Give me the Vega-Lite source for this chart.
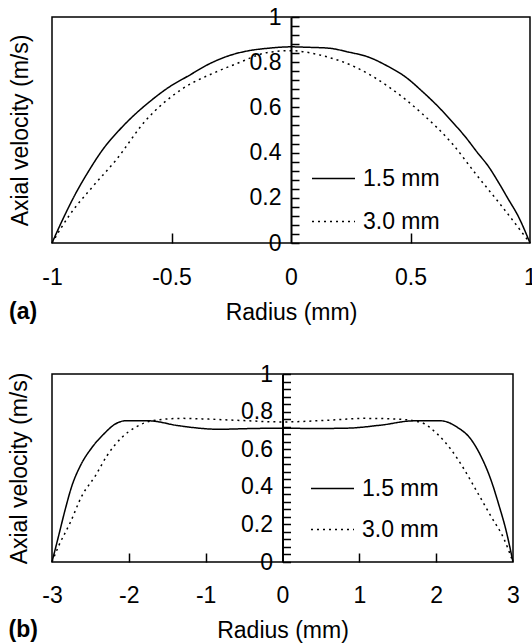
{
  "$schema": "https://vega.github.io/schema/vega-lite/v6.json",
  "padding": {"left": 7, "top": 5, "right": 0, "bottom": 0},
  "spacing": 37,
  "resolve": {"scale": {"strokeDash": "independent"}, "legend": {"strokeDash": "independent"}},
  "config": {
    "view": {"stroke": "black", "strokeWidth": 1.5},
    "font": "Liberation Sans",
    "axis": {
      "labelFont": "Liberation Sans", "labelFontSize": 23, "labelColor": "black",
      "titleFont": "Liberation Sans", "titleFontSize": 23, "titleFontWeight": "normal", "titleColor": "black",
      "grid": false, "labelFlush": false, "labelOverlap": false, "labelBound": false,
      "tickColor": "black", "domainColor": "black", "tickWidth": 1.5
    },
    "legend": {
      "labelFont": "Liberation Sans", "labelFontSize": 23, "labelColor": "black",
      "symbolType": "stroke", "symbolSize": 1849, "symbolStrokeWidth": 1.5, "symbolStrokeColor": "black",
      "labelOffset": 7, "padding": 0
    },
    "title": {"font": "Liberation Sans", "fontSize": 23, "fontWeight": "bold", "color": "black"}
  },
  "datasets": {
    "a": [
      {"r": -1, "v": 0, "series": "1.5 mm"},
      {"r": -0.957, "v": 0.1, "series": "1.5 mm"},
      {"r": -0.901, "v": 0.219, "series": "1.5 mm"},
      {"r": -0.845, "v": 0.321, "series": "1.5 mm"},
      {"r": -0.79, "v": 0.41, "series": "1.5 mm"},
      {"r": -0.72, "v": 0.498, "series": "1.5 mm"},
      {"r": -0.65, "v": 0.572, "series": "1.5 mm"},
      {"r": -0.594, "v": 0.623, "series": "1.5 mm"},
      {"r": -0.51, "v": 0.69, "series": "1.5 mm"},
      {"r": -0.427, "v": 0.741, "series": "1.5 mm"},
      {"r": -0.343, "v": 0.792, "series": "1.5 mm"},
      {"r": -0.259, "v": 0.829, "series": "1.5 mm"},
      {"r": -0.176, "v": 0.851, "series": "1.5 mm"},
      {"r": -0.092, "v": 0.862, "series": "1.5 mm"},
      {"r": 0, "v": 0.868, "series": "1.5 mm"},
      {"r": 0.07, "v": 0.866, "series": "1.5 mm"},
      {"r": 0.159, "v": 0.862, "series": "1.5 mm"},
      {"r": 0.24, "v": 0.845, "series": "1.5 mm"},
      {"r": 0.326, "v": 0.822, "series": "1.5 mm"},
      {"r": 0.4, "v": 0.785, "series": "1.5 mm"},
      {"r": 0.48, "v": 0.734, "series": "1.5 mm"},
      {"r": 0.55, "v": 0.67, "series": "1.5 mm"},
      {"r": 0.619, "v": 0.6, "series": "1.5 mm"},
      {"r": 0.68, "v": 0.53, "series": "1.5 mm"},
      {"r": 0.73, "v": 0.469, "series": "1.5 mm"},
      {"r": 0.78, "v": 0.4, "series": "1.5 mm"},
      {"r": 0.828, "v": 0.336, "series": "1.5 mm"},
      {"r": 0.87, "v": 0.265, "series": "1.5 mm"},
      {"r": 0.912, "v": 0.189, "series": "1.5 mm"},
      {"r": 0.95, "v": 0.12, "series": "1.5 mm"},
      {"r": 1, "v": 0, "series": "1.5 mm"},
      {"r": -1, "v": 0, "series": "3.0 mm"},
      {"r": -0.929, "v": 0.12, "series": "3.0 mm"},
      {"r": -0.831, "v": 0.248, "series": "3.0 mm"},
      {"r": -0.733, "v": 0.366, "series": "3.0 mm"},
      {"r": -0.608, "v": 0.542, "series": "3.0 mm"},
      {"r": -0.455, "v": 0.682, "series": "3.0 mm"},
      {"r": -0.315, "v": 0.756, "series": "3.0 mm"},
      {"r": -0.231, "v": 0.792, "series": "3.0 mm"},
      {"r": -0.092, "v": 0.844, "series": "3.0 mm"},
      {"r": 0, "v": 0.851, "series": "3.0 mm"},
      {"r": 0.131, "v": 0.829, "series": "3.0 mm"},
      {"r": 0.27, "v": 0.778, "series": "3.0 mm"},
      {"r": 0.41, "v": 0.69, "series": "3.0 mm"},
      {"r": 0.549, "v": 0.572, "series": "3.0 mm"},
      {"r": 0.675, "v": 0.439, "series": "3.0 mm"},
      {"r": 0.772, "v": 0.307, "series": "3.0 mm"},
      {"r": 0.884, "v": 0.16, "series": "3.0 mm"},
      {"r": 1, "v": 0, "series": "3.0 mm"}
    ],
    "b": [
      {"r": -3, "v": 0, "series": "1.5 mm"},
      {"r": -2.914, "v": 0.139, "series": "1.5 mm"},
      {"r": -2.827, "v": 0.281, "series": "1.5 mm"},
      {"r": -2.741, "v": 0.405, "series": "1.5 mm"},
      {"r": -2.632, "v": 0.511, "series": "1.5 mm"},
      {"r": -2.48, "v": 0.609, "series": "1.5 mm"},
      {"r": -2.328, "v": 0.68, "series": "1.5 mm"},
      {"r": -2.176, "v": 0.734, "series": "1.5 mm"},
      {"r": -2.046, "v": 0.751, "series": "1.5 mm"},
      {"r": -1.742, "v": 0.751, "series": "1.5 mm"},
      {"r": -1.352, "v": 0.725, "series": "1.5 mm"},
      {"r": -0.831, "v": 0.706, "series": "1.5 mm"},
      {"r": -0.4, "v": 0.71, "series": "1.5 mm"},
      {"r": 0, "v": 0.712, "series": "1.5 mm"},
      {"r": 0.4, "v": 0.71, "series": "1.5 mm"},
      {"r": 0.845, "v": 0.712, "series": "1.5 mm"},
      {"r": 1.279, "v": 0.728, "series": "1.5 mm"},
      {"r": 1.713, "v": 0.751, "series": "1.5 mm"},
      {"r": 2.06, "v": 0.751, "series": "1.5 mm"},
      {"r": 2.277, "v": 0.716, "series": "1.5 mm"},
      {"r": 2.45, "v": 0.654, "series": "1.5 mm"},
      {"r": 2.58, "v": 0.565, "series": "1.5 mm"},
      {"r": 2.71, "v": 0.44, "series": "1.5 mm"},
      {"r": 2.82, "v": 0.298, "series": "1.5 mm"},
      {"r": 2.906, "v": 0.174, "series": "1.5 mm"},
      {"r": 3, "v": 0, "series": "1.5 mm"},
      {"r": -3, "v": 0, "series": "3.0 mm"},
      {"r": -2.914, "v": 0.085, "series": "3.0 mm"},
      {"r": -2.762, "v": 0.21, "series": "3.0 mm"},
      {"r": -2.611, "v": 0.352, "series": "3.0 mm"},
      {"r": -2.436, "v": 0.458, "series": "3.0 mm"},
      {"r": -2.285, "v": 0.565, "series": "3.0 mm"},
      {"r": -2.09, "v": 0.663, "series": "3.0 mm"},
      {"r": -1.915, "v": 0.716, "series": "3.0 mm"},
      {"r": -1.7, "v": 0.751, "series": "3.0 mm"},
      {"r": -1.309, "v": 0.764, "series": "3.0 mm"},
      {"r": -0.961, "v": 0.76, "series": "3.0 mm"},
      {"r": -0.5, "v": 0.752, "series": "3.0 mm"},
      {"r": 0, "v": 0.745, "series": "3.0 mm"},
      {"r": 0.63, "v": 0.755, "series": "3.0 mm"},
      {"r": 1.06, "v": 0.764, "series": "3.0 mm"},
      {"r": 1.495, "v": 0.76, "series": "3.0 mm"},
      {"r": 1.8, "v": 0.743, "series": "3.0 mm"},
      {"r": 2.017, "v": 0.68, "series": "3.0 mm"},
      {"r": 2.19, "v": 0.6, "series": "3.0 mm"},
      {"r": 2.363, "v": 0.494, "series": "3.0 mm"},
      {"r": 2.537, "v": 0.37, "series": "3.0 mm"},
      {"r": 2.71, "v": 0.245, "series": "3.0 mm"},
      {"r": 2.884, "v": 0.121, "series": "3.0 mm"},
      {"r": 3, "v": 0, "series": "3.0 mm"}
    ]
  },
  "vconcat": [
    {
      "width": 478,
      "height": 226,
      "title": {"text": "(a)", "orient": "bottom", "anchor": "start", "frame": "bounds", "offset": -23},
      "data": {"name": "a"},
      "resolve": {"axis": {"x": "independent", "y": "independent"}},
      "layer": [
        {
          "mark": {"type": "line", "color": "black", "strokeWidth": 1.5, "interpolate": "monotone"},
          "encoding": {
            "x": {
              "field": "r", "type": "quantitative",
              "scale": {"domain": [-1, 1], "nice": false, "zero": false},
              "axis": {"orient": "bottom", "values": [-1, -0.5, 0, 0.5, 1], "labelExpr": "datum.value + ''", "title": "Radius (mm)", "domain": false, "ticks": false, "labelPadding": 23, "titlePadding": 12}
            },
            "y": {
              "field": "v", "type": "quantitative",
              "scale": {"domain": [0, 1], "nice": false},
              "axis": {
                "orient": "left",
                "values": [0, 0.2, 0.4, 0.6, 0.8, 1],
                "labelExpr": "datum.value + ''",
                "title": "Axial velocity (m/s)", "offset": -239, "ticks": false, "labelPadding": 10, "domainWidth": 2,
                "titleX": -259, "titleY": 113
              }
            },
            "strokeDash": {
              "field": "series", "type": "nominal",
              "scale": {"domain": ["1.5 mm", "3.0 mm"], "range": [[1, 0], [2, 4]]},
              "legend": {"title": null, "orient": "none", "legendX": 259, "legendY": 139, "rowPadding": 8}
            }
          }
        },
        {
          "mark": {"type": "line", "opacity": 0},
          "encoding": {
            "x": {
              "field": "r", "type": "quantitative",
              "axis": {"orient": "top", "offset": -226, "values": [-0.5, 0.5], "labels": false, "domain": false, "tickSize": 10, "title": null}
            },
            "y": {
              "field": "v", "type": "quantitative",
              "axis": {
                "orient": "right", "offset": -239, "labels": false, "domain": false, "tickSize": 8, "title": null,
                "values": [0, 0.04, 0.08, 0.12, 0.16, 0.2, 0.24, 0.28, 0.32, 0.36, 0.4, 0.44, 0.48, 0.52, 0.56, 0.6, 0.64, 0.68, 0.72, 0.76, 0.8, 0.84, 0.88, 0.92, 0.96, 1]
              }
            }
          }
        }
      ]
    },
    {
      "width": 461,
      "height": 188,
      "title": {"text": "(b)", "orient": "bottom", "anchor": "start", "frame": "bounds", "offset": -23},
      "data": {"name": "b"},
      "resolve": {"axis": {"x": "independent", "y": "independent"}},
      "layer": [
        {
          "mark": {"type": "line", "color": "black", "strokeWidth": 1.5, "interpolate": "monotone"},
          "encoding": {
            "x": {
              "field": "r", "type": "quantitative",
              "scale": {"domain": [-3, 3], "nice": false, "zero": false},
              "axis": {"orient": "bottom", "values": [-3, -2, -1, 0, 1, 2, 3], "labelExpr": "datum.value + ''", "title": "Radius (mm)", "domain": false, "ticks": false, "labelPadding": 22, "titlePadding": 12}
            },
            "y": {
              "field": "v", "type": "quantitative",
              "scale": {"domain": [0, 1], "nice": false},
              "axis": {
                "orient": "left",
                "values": [0, 0.2, 0.4, 0.6, 0.8, 1],
                "labelExpr": "datum.value + ''",
                "title": "Axial velocity (m/s)", "offset": -230.5, "ticks": false, "labelPadding": 10, "domainWidth": 2,
                "titleX": -251, "titleY": 94
              }
            },
            "strokeDash": {
              "field": "series", "type": "nominal",
              "scale": {"domain": ["1.5 mm", "3.0 mm"], "range": [[1, 0], [2, 4]]},
              "legend": {"title": null, "orient": "none", "legendX": 258, "legendY": 92, "rowPadding": 6}
            }
          }
        },
        {
          "mark": {"type": "line", "opacity": 0},
          "encoding": {
            "x": {
              "field": "r", "type": "quantitative",
              "axis": {"orient": "top", "offset": -188, "values": [-2, -1, 1, 2], "labels": false, "domain": false, "tickSize": 9, "title": null}
            },
            "y": {
              "field": "v", "type": "quantitative",
              "axis": {
                "orient": "right", "offset": -230.5, "labels": false, "domain": false, "tickSize": 8, "title": null,
                "values": [0, 0.04, 0.08, 0.12, 0.16, 0.2, 0.24, 0.28, 0.32, 0.36, 0.4, 0.44, 0.48, 0.52, 0.56, 0.6, 0.64, 0.68, 0.72, 0.76, 0.8, 0.84, 0.88, 0.92, 0.96, 1]
              }
            }
          }
        }
      ]
    }
  ]
}
